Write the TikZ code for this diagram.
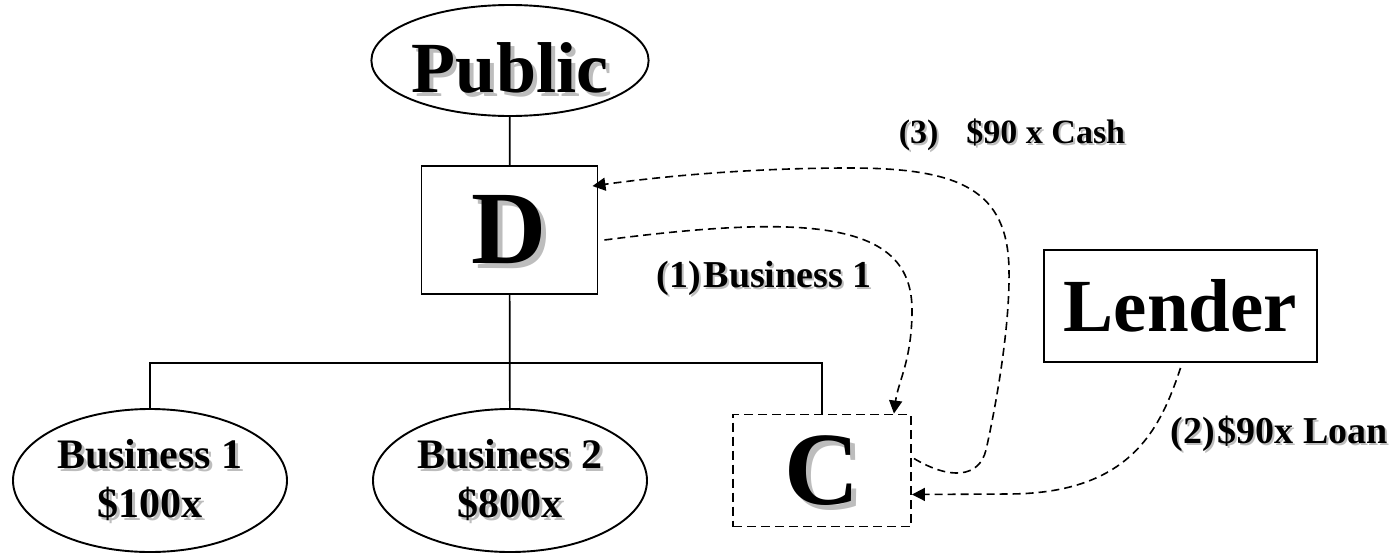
\documentclass[tikz,border=0pt]{standalone}
\usepackage{fontspec}
\setmainfont{Liberation Serif}
\usetikzlibrary{arrows.meta,calc,shapes.geometric}
\definecolor{ChartShade}{HTML}{BDBDBD}
% text with a grey drop shadow
\newcommand{\shaded}[2][3pt]{\makebox[0pt][l]{\smash{\hspace*{#1}\raisebox{-#1}{\textcolor{ChartShade}{#2}}}}#2}

\begin{document}
\begin{tikzpicture}[x=1pt,y=-1pt,
    oval/.style={ellipse,draw,line width=1.9pt,inner sep=0pt},
    box/.style={rectangle,draw,line width=1.9pt,inner sep=0pt},
    flow/.style={line width=1.6pt,dash pattern=on 8pt off 5pt,
      -{Triangle[length=13pt,width=13pt]}},
    flowlabel/.style={anchor=base,font=\bfseries\fontsize{38}{44}\selectfont}]
  \useasboundingbox (0,0) rectangle (1391,554);

  \node[oval,minimum width=272pt,minimum height=111pt,
    text height=63pt,text depth=0pt,
    font=\bfseries\fontsize{72}{80}\selectfont]
    (public) at (510,60.5) {\shaded[4pt]{Public}};
  \node[box,minimum width=176pt,minimum height=128pt,
    font=\bfseries\fontsize{104}{110}\selectfont]
    (D) at (509.5,230) {\shaded[5pt]{D}};
  \node[box,dash pattern=on 9pt off 5pt,minimum width=178pt,minimum height=112pt,
    font=\bfseries\fontsize{104}{110}\selectfont]
    (C) at (822,470.5) {\shaded[5pt]{C}};
  \node[box,minimum width=273pt,minimum height=112pt,
    font=\bfseries\fontsize{75}{80}\selectfont]
    (lender) at (1180.5,306) {Lender};
  \node[oval,minimum width=274pt,minimum height=143pt,align=center,
    font=\bfseries\fontsize{42}{49}\selectfont]
    (bizone) at (150,480.5) {\shaded{Business 1}\\\shaded{\$100x}};
  \node[oval,minimum width=274pt,minimum height=143pt,align=center,
    font=\bfseries\fontsize{42}{49}\selectfont]
    (biztwo) at (510,480.5) {\shaded{Business 2}\\\shaded{\$800x}};

  % ownership tree
  \coordinate (fork) at (510,363);
  \draw[line width=1.7pt] (public) -- (D);
  \draw[line width=1.7pt] (D) -- (biztwo);
  \draw[line width=1.7pt] (bizone.north) |- (fork) -| (C.north);

  % (1) business 1 moves into C
  \draw[flow] ($(D.east)+(6,10)$)
    .. controls (820,212) and (912,225) .. (912,310)
    .. controls (912,360) and (898,382) .. ($(C.north east)+(-18,0)$);
  % (2) loan from the lender
  \draw[flow] ($(lender.south)+(0,5)$)
    .. controls (1160,430) and (1130,493) .. (1010,494)
    -- ($(C.east)+(0,24)$);
  % (3) cash back up to D
  \draw[flow] ($(C.east)+(2,-12)$)
    .. controls (950,480) and (979,478) .. (986,450)
    .. controls (995,410) and (1010,330) .. (1009,270)
    .. controls (1008,190) and (960,168) .. (850,168)
    .. controls (740,168) and (650,178) .. ($(D.north east)+(-6,21)$);

  \node[flowlabel] (stepone) at (764,287) {\shaded[2pt]{(1)\hspace{3pt}Business 1}};
  \node[flowlabel] (steptwo) at (1279,443) {\shaded[2pt]{(2)\hspace{3pt}\$90x Loan}};
  \node[flowlabel,font=\bfseries\fontsize{34}{40}\selectfont]
    (stepthree) at (1012,143) {\shaded[2pt]{(3)\hspace{28pt}\$90 x Cash}};
\end{tikzpicture}
\end{document}
